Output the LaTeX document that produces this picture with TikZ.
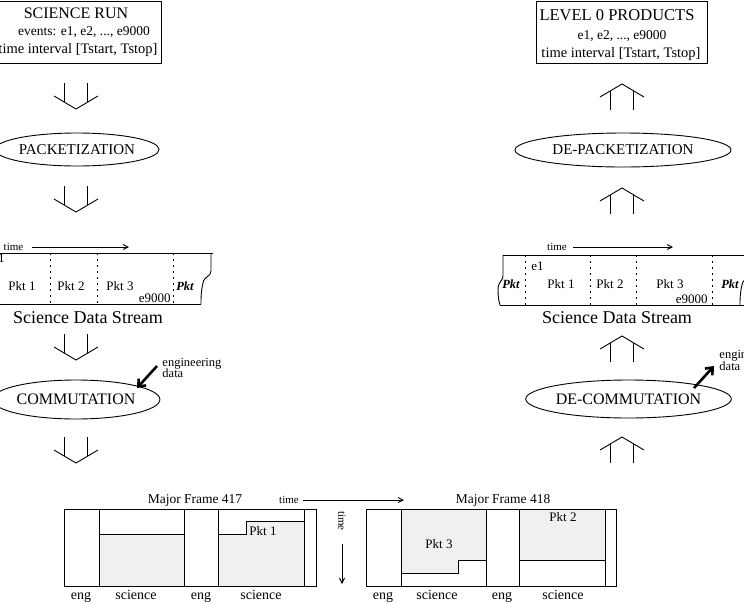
\documentclass[tikz,border=0pt]{standalone}
\usepackage{fontspec}
\setmainfont{Liberation Serif}
\usetikzlibrary{arrows.meta,shapes.geometric}
\begin{document}
\begin{tikzpicture}[x=1pt,y=-1pt,line width=0.9pt,
  fs/.style={font=\fontsize{#1}{#1}\selectfont},
  txt/.style={inner sep=0pt,anchor=base},
  oval/.style={draw,ellipse,inner sep=0pt},
  boxed/.style={draw,inner sep=0pt,anchor=north west},
  thinarrow/.style={-{Straight Barb[length=5pt,width=5pt]}},
  thickarrow/.style={line width=2.6pt,-{Straight Barb[length=6pt,width=10pt]}},
  shade/.style={fill=gray!12},
  dotline/.style={dash pattern=on 2pt off 4pt},
  downarr/.pic={\draw (-11.5,0) -- (-11.5,19.2) (11.5,0) -- (11.5,19.2);
                \draw (-22,13) -- (0,26) -- (22,13);},
  uparr/.pic={\draw (-11.5,26) -- (-11.5,6.8) (11.5,26) -- (11.5,6.8);
              \draw (-22,13) -- (0,0) -- (22,13);}
]
\useasboundingbox (0,0) rectangle (744,603);
\clip (0,0) rectangle (744,603);

% ---------- top boxes ----------
\node (srunbox) [boxed,minimum width=169pt,minimum height=62.5pt] at (-8,0.5) {};
\node (srun1) [txt,fs=16] at (76,18.5) {SCIENCE RUN};
\node (srun2) [txt,fs=13.5] at (84,35.5) {events: e1, e2, ..., e9000};
\node (srun3) [txt,fs=14.5] at (78,53) {time interval [Tstart, Tstop]};

\node (l0box) [boxed,minimum width=171pt,minimum height=62.5pt] at (536,0.5) {};
\node (l01) [txt,fs=16.5] at (617,20) {LEVEL 0 PRODUCTS};
\node (l02) [txt,fs=13.5] at (622,39) {e1, e2, ..., e9000};
\node (l03) [txt,fs=14.5] at (621,57) {time interval [Tstart, Tstop]};

% ---------- hollow arrows ----------
\pic at (76,83) {downarr};
\pic at (76,186) {downarr};
\pic at (76,334) {downarr};
\pic at (76,437) {downarr};
\pic at (622,84) {uparr};
\pic at (622,188) {uparr};
\pic at (622,336) {uparr};
\pic at (622,437) {uparr};

% ---------- ellipses ----------
\node (pack) [oval,fs=15,minimum width=150pt,minimum height=33pt] at (77,149.5) {PACKETIZATION};
\node (depack) [oval,fs=15,minimum width=216pt,minimum height=34pt] at (623,150) {DE-PACKETIZATION};
\node (comm) [oval,fs=16,minimum width=148pt,minimum height=39pt] at (76,399.5) {COMMUTATION};
\node (decomm) [oval,fs=16,minimum width=183pt,minimum height=38pt] at (628.5,399) {DE-COMMUTATION};

% ---------- left data stream ----------
\node (ltime) [txt,fs=11] at (13.5,250) {time};
\coordinate (lta) at (32,247);
\coordinate (ltb) at (129,247);
\draw[thinarrow] (lta) -- (ltb);
\draw (-40,253) -- (213,253);
\draw (211,253) -- (211,271) .. controls (211,277) and (204,276) .. (203,283)
      .. controls (201,291) and (201,298) .. (201,304);
\draw (-40,304) -- (201,304);
\foreach \xx in {-15,50,97,173} \draw[dotline] (\xx,253) -- (\xx,304);
\node (le1) [txt,fs=13,anchor=base east] at (5,262) {e1};
\node (lp1) [txt,fs=13] at (22,290) {Pkt 1};
\node (lp2) [txt,fs=13] at (71,290) {Pkt 2};
\node (lp3) [txt,fs=13] at (120,290) {Pkt 3};
\node (le9) [txt,fs=13,anchor=base east] at (171,302) {e9000};
\node (lpk) [txt,fs=12.5,anchor=base] at (185,290) {\bfseries\itshape Pkt};
\node (lsds) [txt,fs=18] at (88,323) {Science Data Stream};

% ---------- right data stream ----------
\node (rtime) [txt,fs=11] at (557,250) {time};
\coordinate (rta) at (573,247);
\coordinate (rtb) at (673,247);
\draw[thinarrow] (rta) -- (rtb);
\draw (503,255) -- (760,255);
\draw (503,255) -- (503,276) .. controls (503,281) and (498,281) .. (498,290)
      .. controls (498,297) and (499,302) .. (500,305);
\draw (500,305) -- (760,305);
\draw (750,255) -- (750,273) .. controls (750,279) and (743,278) .. (742,285)
      .. controls (740,293) and (740,300) .. (740,305);
\foreach \xx in {525,590,636,712} \draw[dotline] (\xx,255) -- (\xx,305);
\node (re1) [txt,fs=13,anchor=base west] at (531,270) {e1};
\node (rpk1) [txt,fs=12.5] at (511,288) {\bfseries\itshape Pkt};
\node (rp1) [txt,fs=13] at (561,288) {Pkt 1};
\node (rp2) [txt,fs=13] at (610,288) {Pkt 2};
\node (rp3) [txt,fs=13] at (670,288) {Pkt 3};
\node (re9) [txt,fs=13,anchor=base east] at (708,303) {e9000};
\node (rpk2) [txt,fs=12.5] at (730,288) {\bfseries\itshape Pkt};
\node (rsds) [txt,fs=18] at (617,323) {Science Data Stream};

% ---------- engineering data ----------
\node (leng1) [txt,fs=12.5,anchor=base west] at (162,366) {engineering};
\node (leng2) [txt,fs=12.5,anchor=base west] at (162,377) {data};
\coordinate (lea) at (157,366);
\coordinate (leb) at (137,388);
\draw[thickarrow] (lea) -- (leb);

\node (reng1) [txt,fs=12.5,anchor=base west] at (719,358) {engineering};
\node (reng2) [txt,fs=12.5,anchor=base west] at (719,370) {data};
\coordinate (rea) at (694,388);
\coordinate (reb) at (714,366);
\draw[thickarrow] (rea) -- (reb);

% ---------- major frames ----------
\fill[shade] (99,534) rectangle (184,586);
\fill[shade] (218,534) -- (246,534) -- (246,521) -- (304,521) -- (304,586) -- (218,586) -- cycle;
\draw (99,534) -- (184,534);
\draw (218,534) -- (246,534) -- (246,521) -- (304,521);
\node (mf1) [draw,inner sep=0pt,minimum width=252pt,minimum height=77pt,anchor=north west] at (64,509) {};
\foreach \xx in {99,184,218,304} \draw (\xx,509) -- (\xx,586);
\node (mf1t) [txt,fs=13.5] at (195,503) {Major Frame 417};
\node (f1p1) [txt,fs=13] at (263,535) {Pkt 1};

\fill[shade] (401,509) -- (486,509) -- (486,560) -- (458,560) -- (458,573) -- (401,573) -- cycle;
\fill[shade] (519,509) rectangle (605,560);
\draw (401,573) -- (458,573) -- (458,560) -- (486,560);
\draw (519,560) -- (605,560);
\node (mf2) [draw,inner sep=0pt,minimum width=250pt,minimum height=77pt,anchor=north west] at (366,509) {};
\foreach \xx in {401,486,519,605} \draw (\xx,509) -- (\xx,586);
\node (mf2t) [txt,fs=13.5] at (503,503) {Major Frame 418};
\node (f2p3) [txt,fs=13] at (439,548) {Pkt 3};
\node (f2p2) [txt,fs=13] at (563,521) {Pkt 2};

\node (e1) [txt,fs=14] at (81,599) {eng};
\node (s1) [txt,fs=14] at (136,599) {science};
\node (e2) [txt,fs=14] at (201,599) {eng};
\node (s2) [txt,fs=14] at (261,599) {science};
\node (e3) [txt,fs=14] at (383,599) {eng};
\node (s3) [txt,fs=14] at (437,599) {science};
\node (e4) [txt,fs=14] at (502,599) {eng};
\node (s4) [txt,fs=14] at (563,599) {science};

\node (htime) [txt,fs=11] at (289,503) {time};
\coordinate (hta) at (303,500);
\coordinate (htb) at (404,500);
\draw[thinarrow] (hta) -- (htb);
\node (vtime) [inner sep=0pt,fs=11,rotate=-90] at (342,521) {time};
\coordinate (vta) at (342,544);
\coordinate (vtb) at (342,584);
\draw[thinarrow] (vta) -- (vtb);
\end{tikzpicture}
\end{document}
